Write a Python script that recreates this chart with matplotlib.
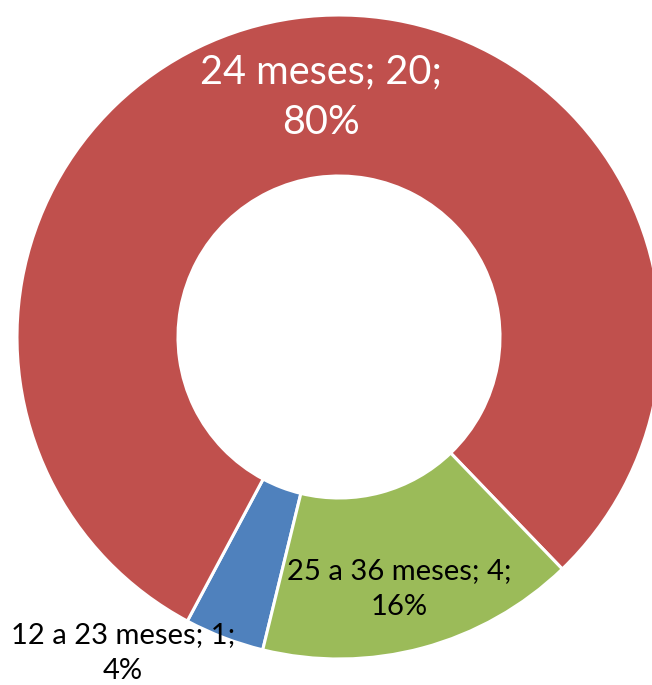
import matplotlib
matplotlib.use("Agg")
import matplotlib.pyplot as plt

categories = ["12 a 23 meses", "24 meses", "25 a 36 meses"]
values = [1, 20, 4]
percents = ["4%", "80%", "16%"]
colors = ["#4F81BD", "#C0504D", "#9BBB59"]

W, H = 652, 685
fig = plt.figure(figsize=(W / 100, H / 100), dpi=100)
ax = fig.add_axes([0, 0, 1, 1])

cx, cy, R = 339, H - 337, 322
ax.pie(values, colors=colors, startangle=-103.7, counterclock=False,
       center=(cx, cy), radius=R,
       wedgeprops=dict(width=R * 0.5, edgecolor="white", linewidth=2.2),
       frame=True)
ax.set_xlim(0, W)
ax.set_ylim(0, H)
ax.set_aspect("equal")
ax.axis("off")

labels = [f"{c}; {v};\n{p}" for c, v, p in zip(categories, values, percents)]
font = ["Lato", "DejaVu Sans"]
ax.text(123, H - 653, labels[0], ha="center", va="center", fontsize=21,
        color="black", family=font, linespacing=1.5)
ax.text(321, H - 97, labels[1], ha="center", va="center", fontsize=28.5,
        color="white", family=font, linespacing=1.45)
ax.text(399, H - 589, labels[2], ha="center", va="center", fontsize=21,
        color="black", family=font, linespacing=1.5)

fig.savefig("out.png", dpi=100)
